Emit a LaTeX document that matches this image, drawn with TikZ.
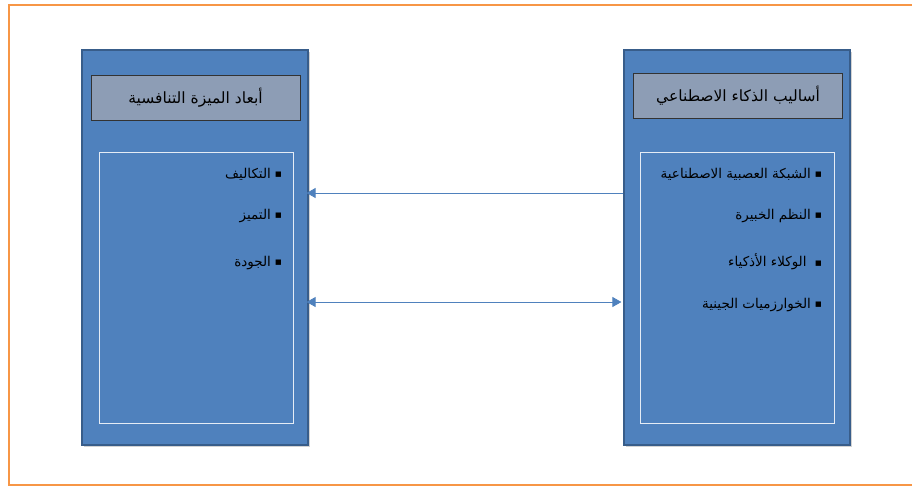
\documentclass[tikz,border=0pt]{standalone}
\usepackage{fontspec}
\newfontfamily\arabicfont[Script=Arabic]{DejaVu Sans}
\TeXXeTstate=1
\usetikzlibrary{arrows.meta, positioning, shadows}

\definecolor{panelblue}{RGB}{79,129,189}
\definecolor{paneledge}{RGB}{56,93,138}
\definecolor{titlegray}{RGB}{141,157,181}
\definecolor{frameorange}{RGB}{247,150,70}

\newcommand{\sqbullet}{{\fontsize{7}{8}\selectfont\raisebox{1.5pt}{■}}}

\begin{document}
\begin{tikzpicture}[
    x=1pt, y=-1pt,
    >={Triangle[length=9pt, width=10pt]},
    panel/.style={rectangle, draw=paneledge, fill=panelblue, line width=1.2pt, drop shadow={opacity=0.35, shadow xshift=1.5pt, shadow yshift=-1.5pt}},
    titlebox/.style={rectangle, draw=black!80, fill=titlegray, line width=1pt, minimum width=209pt, minimum height=45pt, font=\arabicfont\fontsize{15.5}{18}\selectfont},
    listbox/.style={rectangle, draw=white!85!panelblue, line width=0.8pt},
    item/.style={anchor=east, inner sep=0pt, font=\arabicfont\fontsize{13.5}{16}\selectfont},
    link/.style={draw=panelblue, line width=0.8pt}
  ]
    \useasboundingbox (0,0) rectangle (912,488);
    \draw[frameorange, line width=2.5pt] (9,5) rectangle (930,485);

    % the two columns
    \node[panel, minimum width=226pt, minimum height=395pt] (dims) at (195,247.5) {};
    \node[panel, minimum width=226pt, minimum height=395pt] (ai) at (737,247.5) {};

    \node[titlebox] (dimstitle) at (195.5,97.5) {\beginR أبعاد الميزة التنافسية\endR};
    \node[titlebox] (aititle) at (738,95.5) {\beginR أساليب الذكاء الاصطناعي\endR};

    \node[listbox, minimum width=194pt, minimum height=271pt] (dimslist) at (196,287.5) {};
    \node[listbox, minimum width=194pt, minimum height=271pt] (ailist) at (737,287.5) {};

    % items
    \node[item] (d1) at (282,174) {\beginR\sqbullet\ التكاليف\endR};
    \node[item] (d2) at (282,216) {\beginR\sqbullet\ التميز\endR};
    \node[item] (d3) at (282,263) {\beginR\sqbullet\ الجودة\endR};

    \node[item] (a1) at (822,174) {\beginR\sqbullet\ الشبكة العصبية الاصطناعية\endR};
    \node[item] (a2) at (822,216) {\beginR\sqbullet\ النظم الخبيرة\endR};
    \node[item] (a3) at (822,262) {\beginR\sqbullet\ \ الوكلاء الأذكياء\endR};
    \node[item] (a4) at (822,305) {\beginR\sqbullet\ الخوارزميات الجينية\endR};

    % links
    \coordinate (topR) at (ai.west |- 0,193);
    \coordinate (topL) at (dims.east |- 0,193);
    \coordinate (lowR) at (ai.west |- 0,302);
    \coordinate (lowL) at (dims.east |- 0,302);
    \draw[link, ->, shorten >=-2pt] (topR) -- (topL);
    \draw[link, <->, shorten >=2pt, shorten <=-2pt] (lowL) -- (lowR);
  \end{tikzpicture}
\end{document}
